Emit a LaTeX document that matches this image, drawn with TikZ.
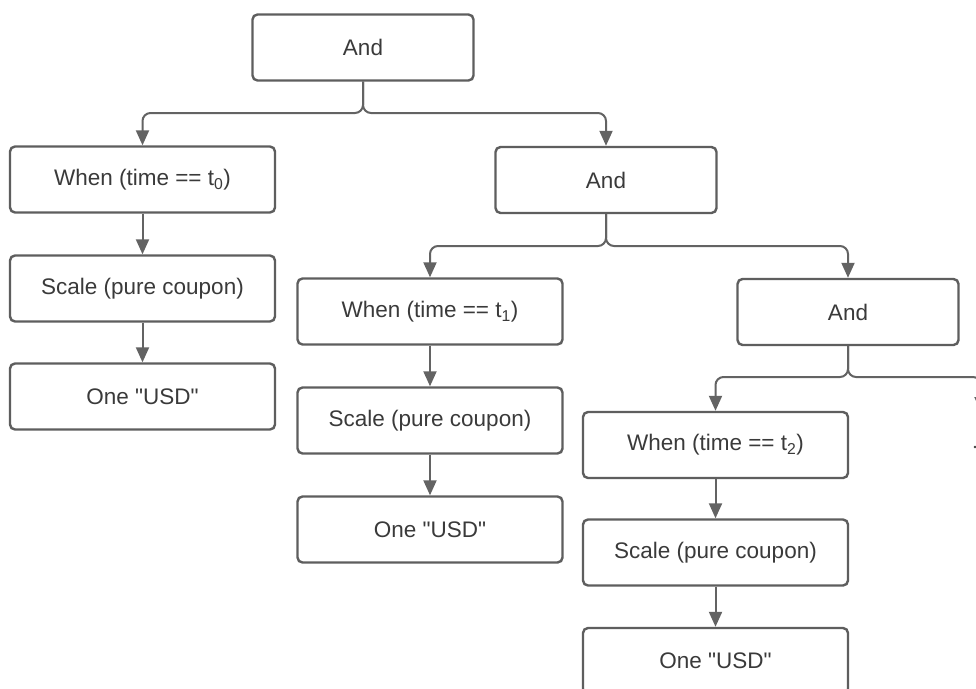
\documentclass[tikz,border=0pt]{standalone}
\usepackage{fontspec}
\setmainfont{Liberation Sans}
\usetikzlibrary{arrows.meta}
\definecolor{edgec}{HTML}{5E5E5E}
\definecolor{linec}{HTML}{636363}
\definecolor{txtc}{HTML}{3A3A3A}
\newcommand{\sq}{\textquotedbl}
\tikzset{
  box/.style={draw=edgec, line width=2.4pt, rounded corners=5pt, fill=white,
    minimum width=265pt, minimum height=66pt, inner sep=0pt,
    text=txtc, font=\fontsize{22.5}{26}\selectfont},
  andbox/.style={box, minimum width=221pt},
  conn/.style={draw=linec, line width=2pt, rounded corners=8pt,
    -{Triangle[width=13pt,length=15pt]}},
}
\begin{document}
\begin{tikzpicture}[x=1pt,y=-1pt]
\useasboundingbox (0,0) rectangle (976,688);
\clip (0,0) rectangle (976,688);
\fill[white] (0,0) rectangle (976,688);

\node[andbox] (and1) at (363,47.5) {And};
\node[box] (when0) at (142.5,179.5) {When (time == t\textsubscript{0})};
\node[box] (scale0) at (142.5,288.5) {Scale (pure coupon)};
\node[box] (one0) at (142.5,396.5) {One \sq USD\sq};

\node[andbox] (and2) at (606,180) {And};
\node[box] (when1) at (430,311.5) {When (time == t\textsubscript{1})};
\node[box] (scale1) at (430,420.5) {Scale (pure coupon)};
\node[box] (one1) at (430,529.5) {One \sq USD\sq};

\node[andbox] (and3) at (848,312) {And};
\node[box] (when2) at (715.5,445) {When (time == t\textsubscript{2})};
\node[box] (scale2) at (715.5,552.5) {Scale (pure coupon)};
\node[box] (one2) at (715.5,661) {One \sq USD\sq};

\coordinate (offright) at (981,412);

% bus connectors
\draw[conn] (and1.south) -- (363,113) -- (when0.north |- 0,113) -- (when0.north);
\draw[conn] (and1.south) -- (363,113) -- (and2.north |- 0,113) -- (and2.north);
\draw[conn] (and2.south) -- (606,246) -- (when1.north |- 0,246) -- (when1.north);
\draw[conn] (and2.south) -- (606,246) -- (and3.north |- 0,246) -- (and3.north);
\draw[conn] (and3.south) -- (848,377) -- (when2.north |- 0,377) -- (when2.north);
\draw[conn] (and3.south) -- (848,377) -- (offright |- 0,377) -- (offright);

% vertical chains
\draw[conn] (when0.south) -- (scale0.north);
\draw[conn] (scale0.south) -- (one0.north);
\draw[conn] (when1.south) -- (scale1.north);
\draw[conn] (scale1.south) -- (one1.north);
\draw[conn] (when2.south) -- (scale2.north);
\draw[conn] (scale2.south) -- (one2.north);

\fill[txtc] (975,447) circle (1.3pt);
\end{tikzpicture}
\end{document}
